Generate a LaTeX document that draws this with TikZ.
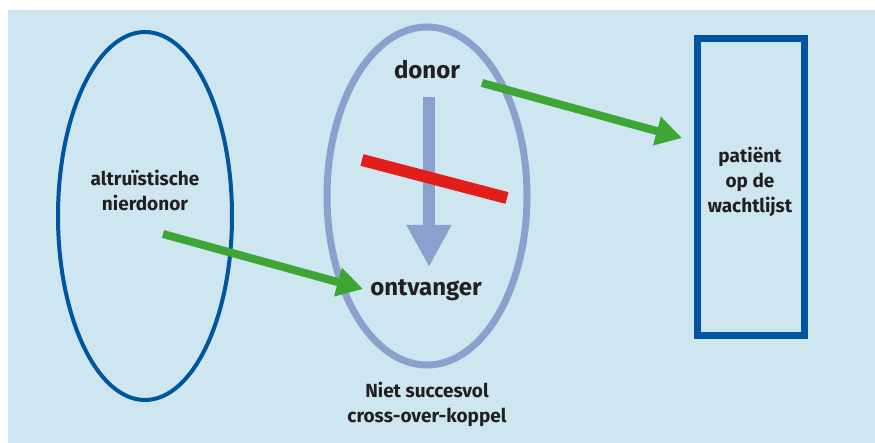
\documentclass[tikz,border=0pt]{standalone}
\usepackage{fontspec}
\setmainfont{Fira Sans}
\usetikzlibrary{arrows.meta}
\definecolor{bgblue}{RGB}{205,230,239}
\definecolor{darkblue}{RGB}{0,85,160}
\definecolor{lavender}{RGB}{140,160,205}
\definecolor{arrowgreen}{RGB}{62,166,52}
\definecolor{barred}{RGB}{226,30,26}
\definecolor{textblack}{RGB}{35,31,32}
\begin{document}
\begin{tikzpicture}[x=1pt, y=1pt,
  label/.style={inner sep=0pt, text=textblack, font=\bfseries\fontsize{19}{25}\selectfont, align=center},
  biglabel/.style={label, font=\bfseries\fontsize{24}{28}\selectfont},
  greenarrow/.style={arrowgreen, line width=8pt, -{Triangle[length=26pt, width=28pt]}},
  dlarrow/.style={lavender, line width=12pt, -{Triangle[length=42pt, width=42pt]}}]

\useasboundingbox (0,0) rectangle (875,443);
\fill[bgblue] (8,0) rectangle (875,433);

% shapes
\draw[darkblue, line width=4pt] (145,227) ellipse (87 and 184);
\draw[lavender, line width=7pt] (427,247) ellipse (100 and 169);
\draw[darkblue, line width=7pt] (697,107) rectangle (804,404);

\node[label] (altruist) at (145,253) {altruïstische\\nierdonor};
\node[biglabel] (donor) at (427,373) {donor};
\node[biglabel] (ontvanger) at (426,153) {ontvanger};
\node[label] (koppel) at (427,39) {Niet succesvol\\cross-over-koppel};
\node[label] (patient) at (750,261) {patiënt\\op de\\wachtlijst};

\coordinate (a1) at (163,209);
\coordinate (a2) at (363,154);
\coordinate (d1) at (482,360);
\coordinate (d2) at (682,305);
\coordinate (r1) at (362,283);
\coordinate (r2) at (507,245);
\coordinate (s1) at (429,346);
\coordinate (s2) at (429,176);

\draw[dlarrow] (s1) -- (s2);
\draw[barred, line width=12pt] (r1) -- (r2);
\draw[greenarrow] (a1) -- (a2);
\draw[greenarrow] (d1) -- (d2);
\end{tikzpicture}
\end{document}
